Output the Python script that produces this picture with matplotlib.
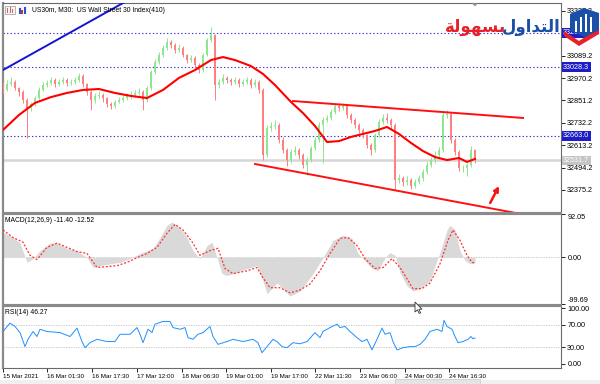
import matplotlib
matplotlib.use("Agg")
import matplotlib.pyplot as plt
from matplotlib.patches import Rectangle, Polygon
import numpy as np

# ---- data (US30m, M30) ----
first_open = 32935
closes = [32907, 32939, 32949, 32917, 32896, 32854, 32811, 32832, 32864, 32907,
          32933, 32944, 32960, 32939, 32949, 32960, 32944, 32949, 32960, 32981,
          32939, 32896, 32854, 32875, 32880, 32864, 32832, 32822, 32843, 32854,
          32864, 32875, 32880, 32891, 32896, 32854, 32917, 33003, 33056, 33093,
          33130, 33162, 33146, 33120, 33130, 33093, 33066, 33077, 33040, 33013,
          33093, 33173, 33199, 32933, 32949, 32971, 32960, 32949, 32960, 32939,
          32949, 32960, 32933, 32949, 32907, 32561, 32705, 32715, 32721, 32641,
          32588, 32534, 32577, 32588, 32561, 32508, 32534, 32598, 32641, 32721,
          32747, 32758, 32790, 32822, 32811, 32822, 32774, 32747, 32721, 32694,
          32667, 32614, 32588, 32667, 32737, 32758, 32747, 32721, 32428, 32439,
          32417, 32428, 32396, 32417, 32439, 32471, 32508, 32534, 32561, 32588,
          32774, 32779, 32641, 32577, 32492, 32492, 32508, 32588, 32531.7]
highs = [32950, 32960, 32975, 32960, 32925, 32905, 32865, 32845, 32875, 32920,
         32950, 32960, 32975, 32970, 32965, 32975, 32970, 32965, 32975, 32995,
         32990, 32945, 32905, 32890, 32900, 32890, 32870, 32845, 32855, 32870,
         32880, 32890, 32900, 32905, 32915, 32905, 32930, 33015, 33070, 33110,
         33145, 33185, 33175, 33155, 33150, 33140, 33100, 33095, 33085, 33050,
         33105, 33185, 33240, 33205, 32965, 32990, 32980, 32970, 32975, 32970,
         32965, 32975, 32970, 32965, 32960, 32915, 32720, 32735, 32745, 32730,
         32655, 32600, 32595, 32610, 32600, 32570, 32550, 32610, 32655, 32735,
         32765, 32775, 32805, 32840, 32835, 32840, 32830, 32785, 32760, 32730,
         32705, 32675, 32625, 32680, 32750, 32780, 32785, 32760, 32730, 32460,
         32450, 32450, 32440, 32435, 32455, 32485, 32525, 32550, 32580, 32605,
         32790, 32800, 32790, 32650, 32590, 32510, 32520, 32610, 32595]
lows = [32890, 32900, 32930, 32905, 32875, 32840, 32650, 32795, 32820, 32855,
        32900, 32920, 32935, 32925, 32930, 32940, 32930, 32935, 32940, 32950,
        32925, 32880, 32800, 32840, 32860, 32845, 32815, 32805, 32810, 32835,
        32845, 32855, 32860, 32870, 32880, 32800, 32845, 32905, 32990, 33045,
        33080, 33120, 33130, 33105, 33110, 33080, 33050, 33055, 33025, 32995,
        33005, 33085, 33160, 32855, 32915, 32940, 32945, 32935, 32940, 32920,
        32930, 32940, 32915, 32920, 32890, 32535, 32550, 32690, 32700, 32625,
        32570, 32505, 32520, 32560, 32540, 32490, 32455, 32525, 32585, 32630,
        32520, 32735, 32745, 32780, 32795, 32800, 32760, 32730, 32705, 32680,
        32650, 32600, 32560, 32575, 32655, 32725, 32730, 32700, 32375, 32410,
        32395, 32400, 32380, 32385, 32405, 32425, 32460, 32495, 32520, 32550,
        32575, 32760, 32625, 32560, 32475, 32470, 32450, 32495, 32520]

# moving average (red) read at some bars
ma_bars = [0, 4, 8, 12, 16, 20, 24, 28, 32, 36, 40, 44, 48, 52, 55, 58, 62, 65,
           68, 72, 75, 78, 81, 84, 87, 90, 93, 96, 99, 102, 105, 108, 111, 114, 116, 118]
ma_vals = [32694, 32774, 32838, 32869, 32891, 32907, 32912, 32891, 32875, 32864,
           32907, 32971, 33013, 33066, 33082, 33066, 33034, 32992, 32933, 32843,
           32784, 32715, 32630, 32635, 32657, 32673, 32689, 32710, 32673, 32625,
           32582, 32550, 32534, 32545, 32524, 32540]

# MACD(12,26,9): main as histogram, signal dotted
macd_bars = [0, 2.5, 4.25, 6, 7.5, 9.25, 11.75, 13.5, 16, 18.5, 21, 22.5, 24.25, 26.75,
             29.25, 31.75, 34.25, 37.5, 39.25, 41, 42.25, 44.25, 46, 47.5, 49.25, 51,
             52.25, 53.5, 54.75, 56, 57.5, 61, 63.5, 65, 66, 68.5, 70, 71.75, 74.25,
             77.5, 80, 82.5, 85, 87.25, 88.75, 90, 92.25, 93.75, 95.5, 96.75, 98,
             99.25, 101, 102.5, 104.25, 106.75, 108.5, 109.25, 111, 111.75, 113,
             114.25, 115.5, 116.75, 118]
macd_vals = [53, 42, 30, -11, -3, 14, 30, 30, 19, 14, -1, -22, -18, -14, -11, -3, 8, 19,
             42, 68, 75, 62, 42, 14, -3, 25, 32, -1, -35, -39, -35, -24, -18, -50, -78,
             -55, -67, -83, -72, -35, -1, 36, 47, 40, 8, -3, -24, -29, -1, 10, 4, -33,
             -61, -72, -67, -50, -7, 10, 58, 68, 58, 14, -7, -14, -11.40]
sig_bars = [0, 2.5, 5, 6.75, 8.5, 11, 13.5, 16, 18.5, 21, 23.5, 26, 28.5, 31, 33.5, 36,
            38.5, 41, 43, 45, 47.5, 49.25, 51.75, 53.75, 55.5, 57.5, 61, 63.5, 65,
            66.75, 69.25, 71.75, 74.25, 76.75, 79.25, 81.75, 84.25, 86.25, 88.5, 90.5,
            93, 95, 97.25, 99.25, 101, 102.5, 104.75, 106.75, 109.25, 111.25, 112.5,
            114.25, 116, 117.25, 118]
sig_vals = [58, 42, 32, 4, -5, 21, 30, 21, 12, 8, -22, -20, -18, -11, -1, 8, 21, 51, 70,
            58, 30, 4, 14, 19, -24, -35, -29, -22, -44, -65, -65, -76, -70, -57, -29, 8,
            40, 42, 25, -3, -24, -22, -3, -22, -46, -67, -67, -55, -14, 36, 58, 36, 4,
            -11, -12.52]

# RSI(14)
rsi_bars = [0, 1.75, 3, 4.25, 5.5, 6.25, 7.5, 8.5, 9.25, 11, 14.25, 16.75, 18.5, 19.75,
            20.5, 21.75, 23.5, 26, 28, 29.25, 31.75, 33.5, 34.25, 35, 36.25, 37.25, 38,
            40, 41.75, 42.5, 44.25, 45.5, 46.25, 47.5, 48.75, 50, 51.75, 52.5, 53.75,
            56, 57.5, 60, 62.5, 63.75, 64.75, 66, 67.5, 68.5, 69.75, 71, 72.5, 74.25,
            76, 78, 79.25, 80, 81.75, 83.5, 84.25, 85.5, 86.75, 88.5, 89.75, 91, 92.25,
            93.5, 94.75, 95.5, 96.75, 97.5, 98.5, 100, 101.75, 103, 104.25, 105.5,
            106.75, 108.5, 109.75, 110.25, 111, 112.25, 113, 113.75, 115, 116.25, 117,
            117.5, 118]
rsi_vals = [58, 73, 67, 56, 31, 44, 58, 49, 62, 58, 56, 49, 64, 40, 29, 38, 44, 40, 40,
            53, 53, 65, 53, 38, 62, 56, 71, 76, 76, 65, 62, 65, 47, 44, 53, 56, 67, 49,
            35, 40, 44, 40, 44, 38, 20, 31, 44, 40, 31, 29, 38, 36, 40, 56, 47, 58, 65,
            71, 65, 67, 58, 47, 40, 44, 25, 44, 64, 53, 56, 40, 25, 29, 31, 31, 35, 44,
            58, 62, 58, 78, 67, 62, 49, 38, 40, 44, 49, 45, 46.27]

# objects drawn on the chart (bar, price)
blue_trend = ([0, 32], [33013, 33393])
upper_trend = ([72.5, 130], [32848, 32758])
lower_trend = ([63, 130], [32513, 32245])
red_arrow = ([121.8, 124], [32306, 32396])
hlines = [33210.1, 33028.3, 32663.0]
last_price = 32531.7

price_ticks = [33327.2, 33089.2, 32970.2, 32851.2, 32732.2, 32613.2, 32494.2, 32375.2]
macd_ticks = [92.05, 0.0, -99.69]
rsi_ticks = [100, 70, 30, 0]
time_pos = [0, 11, 22.25, 33.5, 44.75, 55.75, 67, 78, 89.25, 100.5, 111.5]
time_labels = ["15 Mar 2021", "16 Mar 01:30", "16 Mar 17:30", "17 Mar 12:00",
               "18 Mar 06:30", "19 Mar 01:00", "19 Mar 17:00", "22 Mar 11:30",
               "23 Mar 06:00", "24 Mar 00:30", "24 Mar 16:30"]

# ---- figure ----
plt.rcParams['font.family'] = ['Liberation Sans', 'DejaVu Sans']
W, H = 600, 384
fig = plt.figure(figsize=(6, 3.84), dpi=100)
fig.patch.set_facecolor('white')


def px_axes(x0, y0, x1, y1, **kw):
    return fig.add_axes([x0 / W, 1 - y1 / H, (x1 - x0) / W, (y1 - y0) / H], **kw)


ax = px_axes(3, 3, 561, 212)
axm = px_axes(3, 214, 561, 304)
axr = px_axes(3, 306, 561, 368)

XL = (0, 139.5)
for a in (ax, axm, axr):
    a.set_xlim(*XL)
    for s in a.spines.values():
        s.set_color('#6a6a6a')
        s.set_linewidth(0.8)
    a.spines['left'].set_linewidth(1.6)
    a.spines['left'].set_color('#8a8a8a')
    a.yaxis.tick_right()
    a.tick_params(axis='y', length=3, width=0.6, pad=1.5, labelsize=5.2,
                  colors='#000000', left=False)
    a.tick_params(axis='x', bottom=False, labelbottom=False)

# main price panel
ax.set_ylim(32257.7, 33369.5)
n = len(closes)
bars = np.arange(n)
opens = np.array([first_open] + closes[:-1])
cl = np.array(closes)
up = cl >= opens
cols = np.where(up, '#8ee68e', '#ff8080')
ax.vlines(bars, lows, highs, colors=cols, linewidth=0.7, zorder=3)
ax.bar(bars, cl - opens, bottom=opens, width=0.55, color=cols, linewidth=0, zorder=3)

ax.plot(ma_bars, ma_vals, color='#ff0000', linewidth=1.5, zorder=4)
for lv in hlines:
    ax.axhline(lv, color='#3434d6', linewidth=0.8, linestyle=(0, (1.2, 2)), zorder=2)
ax.axhline(last_price, color='#d6d6d6', linewidth=1.8, zorder=1)

ax.plot(*blue_trend, color='#1414d2', linewidth=1.4, zorder=5)
ax.plot(*upper_trend, color='#ff1010', linewidth=1.4, zorder=5)
ax.plot(*lower_trend, color='#ff1010', linewidth=1.4, zorder=5)
ax.annotate("", xy=(red_arrow[0][1], red_arrow[1][1]), xytext=(red_arrow[0][0], red_arrow[1][0]),
            arrowprops=dict(arrowstyle='-|>', color='#ff1010', lw=1.8, mutation_scale=7,
                            shrinkA=0, shrinkB=0), zorder=5)

ax.set_yticks(price_ticks, [f"{v:.1f}" for v in price_ticks])
ytr = ax.get_yaxis_transform()
for lv in hlines:
    ax.text(1.004, lv, f"{lv:.1f}", transform=ytr, fontsize=5.2, color='white',
            ha='left', va='center', clip_on=False, zorder=6,
            bbox=dict(boxstyle='square,pad=0.18', fc='#1c1cc8', ec='none'))
ax.text(1.004, last_price, f"{last_price:.1f}", transform=ytr, fontsize=5.2, color='white',
        ha='left', va='center', clip_on=False, zorder=6,
        bbox=dict(boxstyle='square,pad=0.18', fc='#c4c4c4', ec='none'))

# MACD panel
axm.set_ylim(-99.69, 92.05)
axm.fill_between(macd_bars, 0, macd_vals, color='#d9d9d9', linewidth=0, zorder=2)
axm.axhline(0, color='#c0c0c0', linewidth=0.6, linestyle=(0, (1.5, 1.5)), zorder=1)
axm.plot(sig_bars, sig_vals, color='#ff3030', linewidth=0.9, linestyle=(0, (1.6, 1.4)), zorder=3)
axm.set_yticks(macd_ticks, [f"{v:.2f}" for v in macd_ticks])
tl = axm.get_yticklabels()
tl[0].set_va('top')
tl[-1].set_va('bottom')
axm.text(0.004, 0.93, "MACD(12,26,9) -11.40 -12.52", transform=axm.transAxes,
         fontsize=4.9, ha='left', va='center')

# RSI panel
axr.set_ylim(-7.3, 103.6)
for lv in (70, 30):
    axr.axhline(lv, color='#c0c0c0', linewidth=0.6, linestyle=(0, (1.5, 1.5)), zorder=1)
axr.plot(rsi_bars, rsi_vals, color='#1e90ff', linewidth=0.7, zorder=3)
axr.set_yticks(rsi_ticks, [f"{v:.2f}" for v in rsi_ticks])
axr.text(0.004, 0.9, "RSI(14) 46.27", transform=axr.transAxes,
         fontsize=4.9, ha='left', va='center')
axr.tick_params(axis='x', bottom=True, labelbottom=True, length=3, width=0.6,
                pad=1.5, labelsize=4.5, colors='#000000')
axr.set_xticks(time_pos, time_labels)
for t in axr.get_xticklabels():
    t.set_ha('left')

# ---- overlay in pixel coordinates: chrome, logo, cursor ----
ov = fig.add_axes([0, 0, 1, 1], zorder=20)
ov.set_xlim(0, W)
ov.set_ylim(H, 0)
ov.axis('off')
ov.patch.set_alpha(0)

# panel separators
ov.add_patch(Rectangle((2, 211.5), 559.5, 3, fc='#8a8a8a', ec='none'))
ov.add_patch(Rectangle((2, 303.5), 559.5, 3, fc='#8a8a8a', ec='none'))
# bottom strip
ov.add_patch(Rectangle((0, 380), W, 4, fc='#f0f0f0', ec='none'))
ov.add_patch(Rectangle((395, 378.5), 85, 6, fc='#e4e4e4', ec='#c8c8c8', lw=0.5))

# top-left icons and title
ov.add_patch(Rectangle((5, 5.5), 10, 8, fc='#f4f4f4', ec='#9a9a9a', lw=0.5))
for xx, hh, cc in [(7, 5, '#e06060'), (9.5, 6, '#e06060'), (12, 4, '#e06060')]:
    ov.add_patch(Rectangle((xx, 12.5 - hh), 1.3, hh, fc=cc, ec='none'))
ov.add_patch(Rectangle((18, 6), 9, 7.5, fc='#f4f4f4', ec='none'))
for xx, hh, cc in [(18.5, 6, '#2a4fd0'), (21, 4, '#d03030'), (23.5, 7, '#2a4fd0')]:
    ov.add_patch(Rectangle((xx, 13.5 - hh), 2, hh, fc=cc, ec='none'))
ov.text(32, 10, "US30m, M30:  US Wall Street 30 Index(410)", fontsize=4.9,
        ha='left', va='center', color='#000000')

# one-click trading arrow
ov.add_patch(Polygon([(472, 3.5), (478, 3.5), (475, 6.5)], closed=True, fc='#9a9a9a', ec='none'))

# watermark logo: blue shield icon with white bars, red swoosh, Arabic wordmark
ov.add_patch(Polygon([(564, 31), (579, 41), (599, 28), (599, 34), (579, 46), (564, 36)],
                     closed=True, fc='#e8202a', ec='none'))
ov.add_patch(Polygon([(570, 14), (584, 8), (599, 13), (599, 30), (585, 37), (570, 31)],
                     closed=True, fc='#1b4fa8', ec='none'))
for xx, y0 in [(575, 21), (580, 17), (585, 14), (590, 17)]:
    ov.add_patch(Rectangle((xx, y0), 2.4, 32 - y0, fc='white', ec='none'))
ov.text(506, 27, "\uFE94\uFEDF\uFEEE\uFEEC\uFEB4\uFE91", family=['DejaVu Sans'],
        fontweight='bold', fontsize=12, color='#e8202a', ha='right', va='center')
ov.text(561, 27, "\uFEDD\uFEED\uFE8D\uFEAA\uFE98\uFEDF\uFE8D", family=['DejaVu Sans'],
        fontweight='bold', fontsize=12, color='#1b4fa8', ha='right', va='center')

# mouse cursor
cx, cy = 415, 302
cur = [(0, 0), (0, 10), (2.4, 7.8), (4.2, 11.5), (5.6, 10.8), (3.9, 7.2), (7, 7.2)]
ov.add_patch(Polygon([(cx + a, cy + b) for a, b in cur], closed=True,
                     fc='white', ec='#333333', lw=0.6))

fig.savefig("out.png", dpi=100)
